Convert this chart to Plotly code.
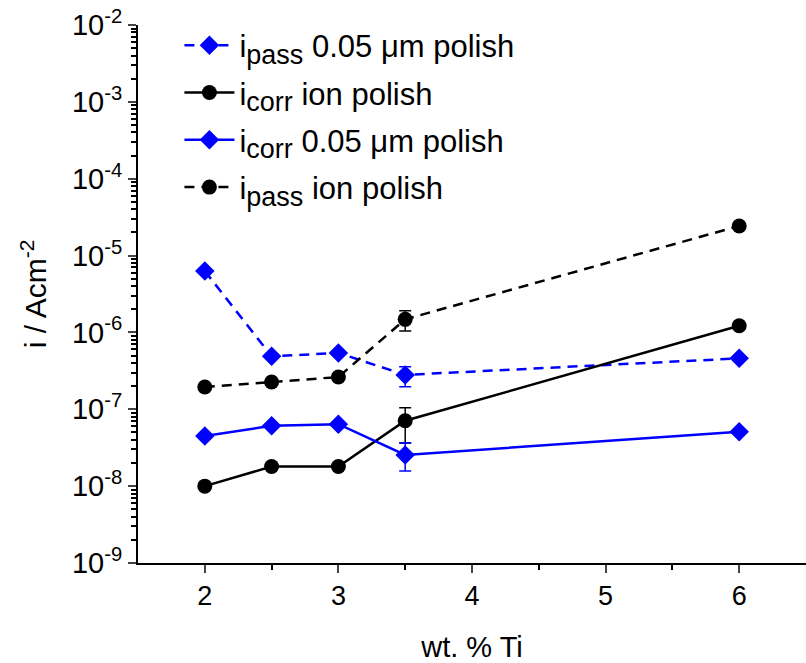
import plotly.graph_objects as go

# Ti content of the alloys (wt. %)
wt_ti = [2, 2.5, 3, 3.5, 6]

# Current densities (A cm^-2)
ipass_005 = [6.3e-6, 4.9e-7, 5.4e-7, 2.8e-7, 4.6e-7]
icorr_ion = [1.0e-8, 1.8e-8, 1.8e-8, 7.1e-8, 1.22e-6]
icorr_005 = [4.5e-8, 6.1e-8, 6.4e-8, 2.55e-8, 5.1e-8]
ipass_ion = [1.95e-7, 2.26e-7, 2.63e-7, 1.48e-6, 2.43e-5]

# Error bar extents (upper / lower offsets), only the 3.5 % alloy has them
ipass_005_up = [0, 0, 0, 0.78e-7, 0]
ipass_005_dn = [0, 0, 0, 0.83e-7, 0]
icorr_ion_up = [0, 0, 0, 3.4e-8, 0]
icorr_ion_dn = [0, 0, 0, 3.45e-8, 0]
icorr_005_up = [0, 0, 0, 1.1e-8, 0]
icorr_005_dn = [0, 0, 0, 0.98e-8, 0]
ipass_ion_up = [0, 0, 0, 0.44e-6, 0]
ipass_ion_dn = [0, 0, 0, 0.44e-6, 0]

y_tick_vals = [1e-9, 1e-8, 1e-7, 1e-6, 1e-5, 1e-4, 1e-3, 1e-2]
y_tick_text = ["10<sup>-9</sup>", "10<sup>-8</sup>", "10<sup>-7</sup>", "10<sup>-6</sup>",
               "10<sup>-5</sup>", "10<sup>-4</sup>", "10<sup>-3</sup>", "10<sup>-2</sup>"]

BLUE = "#0000ff"
BLACK = "#000000"
FONT = "Liberation Sans, Arial, sans-serif"
DASH = "10px,7px"


def sub(text):
    # larger-than-default subscript for the legend labels
    return f'<sub><span style="font-size:27px">{text}</span></sub>'


def series(name, group, y, up, dn, color, symbol, size, dash):
    return go.Scatter(
        x=wt_ti, y=y, name=name, legendgroup=group, mode="lines+markers",
        line=dict(color=color, width=2.5, dash=dash),
        marker=dict(color=color, symbol=symbol, size=size),
        error_y=dict(type="data", symmetric=False, array=up, arrayminus=dn,
                     color=color, thickness=1.5, width=6),
    )


fig = go.Figure()
fig.add_trace(series("i" + sub("pass") + " 0.05 \u03bcm polish", "a", ipass_005,
                     ipass_005_up, ipass_005_dn, BLUE, "diamond", 15, DASH))
fig.add_trace(series("i" + sub("corr") + " ion polish", "b", icorr_ion,
                     icorr_ion_up, icorr_ion_dn, BLACK, "circle", 15, "solid"))
fig.add_trace(series("i" + sub("corr") + " 0.05 \u03bcm polish", "c", icorr_005,
                     icorr_005_up, icorr_005_dn, BLUE, "diamond", 15, "solid"))
fig.add_trace(series("i" + sub("pass") + " ion polish", "d", ipass_ion,
                     ipass_ion_up, ipass_ion_dn, BLACK, "circle", 15, DASH))

fig.update_layout(
    width=806, height=663,
    margin=dict(l=138, r=0, t=25, b=100),
    paper_bgcolor="white", plot_bgcolor="white",
    font=dict(family=FONT, size=30, color="black"),
    showlegend=True,
    legend=dict(x=0.062, y=1.012, xanchor="left", yanchor="top", tracegroupgap=4,
                bgcolor="rgba(0,0,0,0)", font=dict(size=31), itemwidth=50),
    xaxis=dict(
        range=[1.5, 6.5], tickvals=[2, 3, 4, 5, 6], ticks="outside", ticklen=8, tickwidth=2,
        showline=True, linecolor="black", linewidth=2, showgrid=False, zeroline=False,
        minor=dict(tickvals=[2.5, 3.5, 4.5, 5.5], ticks="outside", ticklen=5, tickwidth=2,
                   tickcolor="black", showgrid=False),
        title=dict(text="wt. % Ti", font=dict(size=29), standoff=30),
        tickfont=dict(size=27),
    ),
    yaxis=dict(
        type="log", range=[-9, -2], tickvals=y_tick_vals, ticktext=y_tick_text,
        ticks="outside", ticklen=8, tickwidth=2,
        showline=True, linecolor="black", linewidth=2, showgrid=False, zeroline=False,
        minor=dict(tickvals=[m * 10.0 ** e for e in range(-9, -2) for m in range(2, 10)],
                   ticks="outside", ticklen=5, tickwidth=2, tickcolor="black", showgrid=False),
        title=dict(text="i / Acm<sup>-2</sup>", font=dict(size=30), standoff=16),
        tickfont=dict(size=29),
    ),
)

fig.write_html("out.html")
